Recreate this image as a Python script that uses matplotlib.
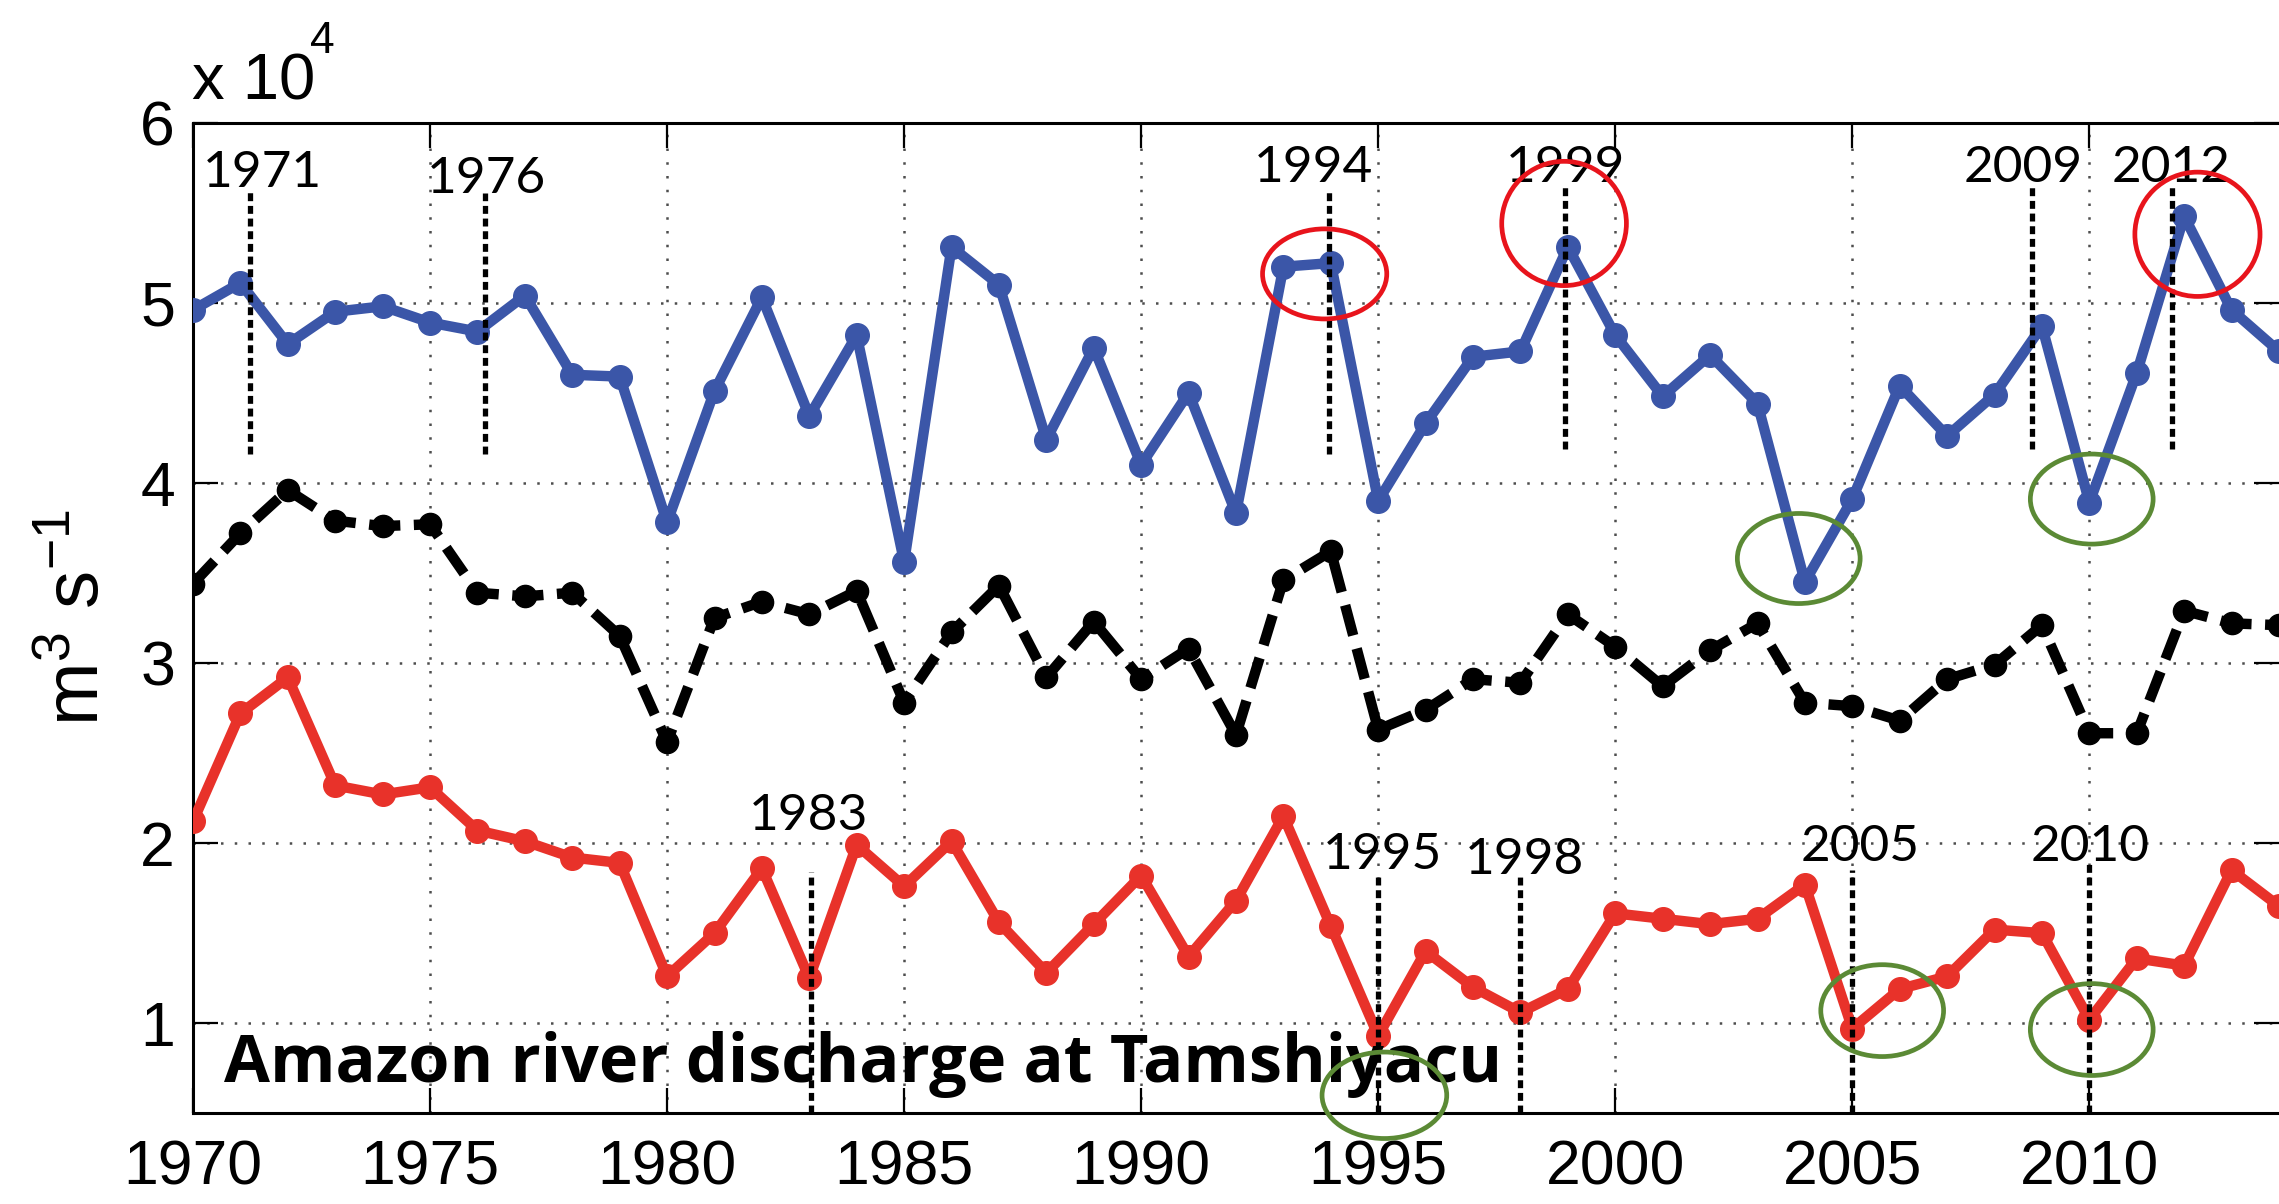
import matplotlib
matplotlib.use("Agg")
import matplotlib.pyplot as plt
from matplotlib.patches import Ellipse
from matplotlib import font_manager as fm

# ---------------- data (units of 10^4 m^3 s^-1) ----------------
years = list(range(1970, 2015))
blue_max = [4.96, 5.11, 4.77, 4.95, 4.98, 4.89, 4.84, 5.04, 4.60, 4.59,
            3.78, 4.51, 5.03, 4.37, 4.82, 3.56, 5.31, 5.10, 4.24, 4.75,
            4.10, 4.50, 3.83, 5.20, 5.22, 3.90, 4.33, 4.70, 4.73, 5.31,
            4.82, 4.48, 4.71, 4.44, 3.45, 3.91, 4.54, 4.26, 4.49, 4.87,
            3.89, 4.61, 5.48, 4.96, 4.73]
black_mean = [3.44, 3.72, 3.96, 3.79, 3.76, 3.77, 3.39, 3.37, 3.39, 3.15,
              2.56, 3.25, 3.34, 3.27, 3.40, 2.78, 3.17, 3.43, 2.92, 3.23,
              2.91, 3.08, 2.60, 3.46, 3.62, 2.63, 2.74, 2.91, 2.89, 3.27,
              3.09, 2.87, 3.07, 3.22, 2.78, 2.76, 2.68, 2.91, 2.99, 3.21,
              2.61, 2.61, 3.29, 3.22, 3.21]
red_min = [2.12, 2.72, 2.92, 2.32, 2.27, 2.31, 2.07, 2.01, 1.92, 1.89,
           1.26, 1.50, 1.86, 1.25, 1.99, 1.76, 2.01, 1.56, 1.28, 1.55,
           1.82, 1.37, 1.68, 2.15, 1.54, 0.93, 1.40, 1.20, 1.06, 1.19,
           1.61, 1.58, 1.55, 1.58, 1.77, 0.97, 1.19, 1.26, 1.52, 1.50,
           1.02, 1.36, 1.32, 1.85, 1.65]

xticks = [1970, 1975, 1980, 1985, 1990, 1995, 2000, 2005, 2010]
yticks = [1, 2, 3, 4, 5, 6]

# annotated flood years (top) and drought years (bottom)
flood_labels = ["1971", "1976", "1994", "1999", "2009", "2012"]
flood_line_x = [1971.2, 1976.16, 1993.96, 1998.94, 2008.78, 2011.75]
flood_text_x = [1971.46, 1976.18, 1993.63, 1998.94, 2008.61, 2011.72]
flood_text_y = [5.64, 5.61, 5.67, 5.67, 5.67, 5.67]
flood_line_lo = [4.16, 4.16, 4.16, 4.19, 4.19, 4.19]
flood_line_hi = [5.62, 5.61, 5.62, 5.65, 5.65, 5.65]

drought_labels = ["1983", "1995", "1998", "2005", "2010"]
drought_line_x = [1983.04, 1995.0, 1998.0, 2005.0, 2010.0]
drought_text_x = [1982.98, 1995.1, 1998.09, 2005.17, 2010.02]
drought_text_y = [2.075, 1.855, 1.83, 1.90, 1.90]
drought_line_hi = [1.84, 1.83, 1.83, 1.85, 1.90]

red_ell = [(1993.87, 5.16, 2.62, 0.50), (1998.92, 5.44, 2.63, 0.69),
           (2012.28, 5.38, 2.64, 0.69)]
green_ell = [(2003.87, 3.58, 2.59, 0.50), (2010.05, 3.91, 2.59, 0.50),
             (1995.13, 0.60, 2.63, 0.48), (2005.63, 1.07, 2.59, 0.51),
             (2010.05, 0.965, 2.59, 0.51)]

title = "Amazon river discharge at Tamshiyacu"

# ---------------- fonts ----------------
def has_font(name):
    try:
        fm.findfont(fm.FontProperties(family=name), fallback_to_default=False)
        return True
    except Exception:
        return False

tick_font = "Liberation Sans"
ann_font = "Lato" if has_font("Lato") else "DejaVu Sans"
title_font = "Open Sans" if has_font("Open Sans") else ann_font

plt.rcParams["mathtext.fontset"] = "custom"
plt.rcParams["mathtext.rm"] = "Liberation Sans"
plt.rcParams["mathtext.it"] = "Liberation Sans:italic"

# ---------------- figure ----------------
W, H, DPI = 2279, 1204, 100
fig = plt.figure(figsize=(W / DPI, H / DPI), dpi=DPI)
ax = fig.add_axes([193 / W, 1 - 1113.3 / H, 1 - 193 / W, (1113.3 - 122.6) / H])

blue = "#3b56a8"
red = "#e8322a"

ax.plot(years, blue_max, color=blue, lw=7.5, marker="o", ms=17,
        solid_joinstyle="round", zorder=3)
ax.plot(years, black_mean, color="black", lw=7.5, marker="o", ms=16,
        dashes=(3.0, 1.3), zorder=3)
ax.plot(years, red_min, color=red, lw=7.5, marker="o", ms=17,
        solid_joinstyle="round", zorder=3)

ax.set_xlim(1970, 2014)
ax.set_ylim(0.5, 6)
ax.set_xticks(xticks)
ax.set_yticks(yticks)
ax.set_xticklabels([str(t) for t in xticks])
ax.set_yticklabels([str(t) for t in yticks])
ax.grid(True, color="0.3", lw=1.8, linestyle=(0, (1, 4.5)))
ax.tick_params(direction="in", length=18, width=1.6, top=True, right=True,
               labelsize=45)
ax.tick_params(axis="x", pad=18)
ax.tick_params(axis="y", pad=13)
for lab in ax.get_xticklabels() + ax.get_yticklabels():
    lab.set_fontfamily(tick_font)
for s in ax.spines.values():
    s.set_linewidth(2.2)
ax.spines["right"].set_visible(False)

ax.set_ylabel(r"m$^{3}$ s$^{-1}$", fontsize=55, family="Liberation Sans",
              labelpad=18)

# exponent label
fig.text(192 / W, 1 - 100 / H, "x 10", fontsize=47, family=tick_font,
         ha="left", va="baseline")
fig.text(310 / W, 1 - 53 / H, "4", fontsize=32, family=tick_font,
         ha="left", va="baseline")

# annotation dotted lines and labels
dot = (0, (1.5, 0.9))
for lab, lx, tx, ty, lo, hi in zip(flood_labels, flood_line_x, flood_text_x,
                                  flood_text_y, flood_line_lo, flood_line_hi):
    ax.plot([lx, lx], [lo, hi], color="black", lw=3.8, linestyle=dot, zorder=4)
    ax.text(tx, ty, lab, fontsize=37, family=ann_font, ha="center",
            va="baseline", zorder=5)
for lab, lx, tx, ty, hi in zip(drought_labels, drought_line_x, drought_text_x,
                               drought_text_y, drought_line_hi):
    ax.plot([lx, lx], [0.5, hi], color="black", lw=3.8, linestyle=dot, zorder=4)
    ax.text(tx, ty, lab, fontsize=37, family=ann_font, ha="center",
            va="baseline", zorder=5)

for (cx, cy, w, h) in red_ell:
    ax.add_patch(Ellipse((cx, cy), w, h, fill=False, edgecolor="#e8141c",
                         lw=3.4, zorder=6, clip_on=False))
for (cx, cy, w, h) in green_ell:
    ax.add_patch(Ellipse((cx, cy), w, h, fill=False, edgecolor="#5b8a35",
                         lw=3.4, zorder=6, clip_on=False))

ax.text(1970.65, 0.673, title, fontsize=48, family=title_font,
        fontweight="bold", ha="left", va="baseline", zorder=5)

fig.savefig("out.png", dpi=DPI)
